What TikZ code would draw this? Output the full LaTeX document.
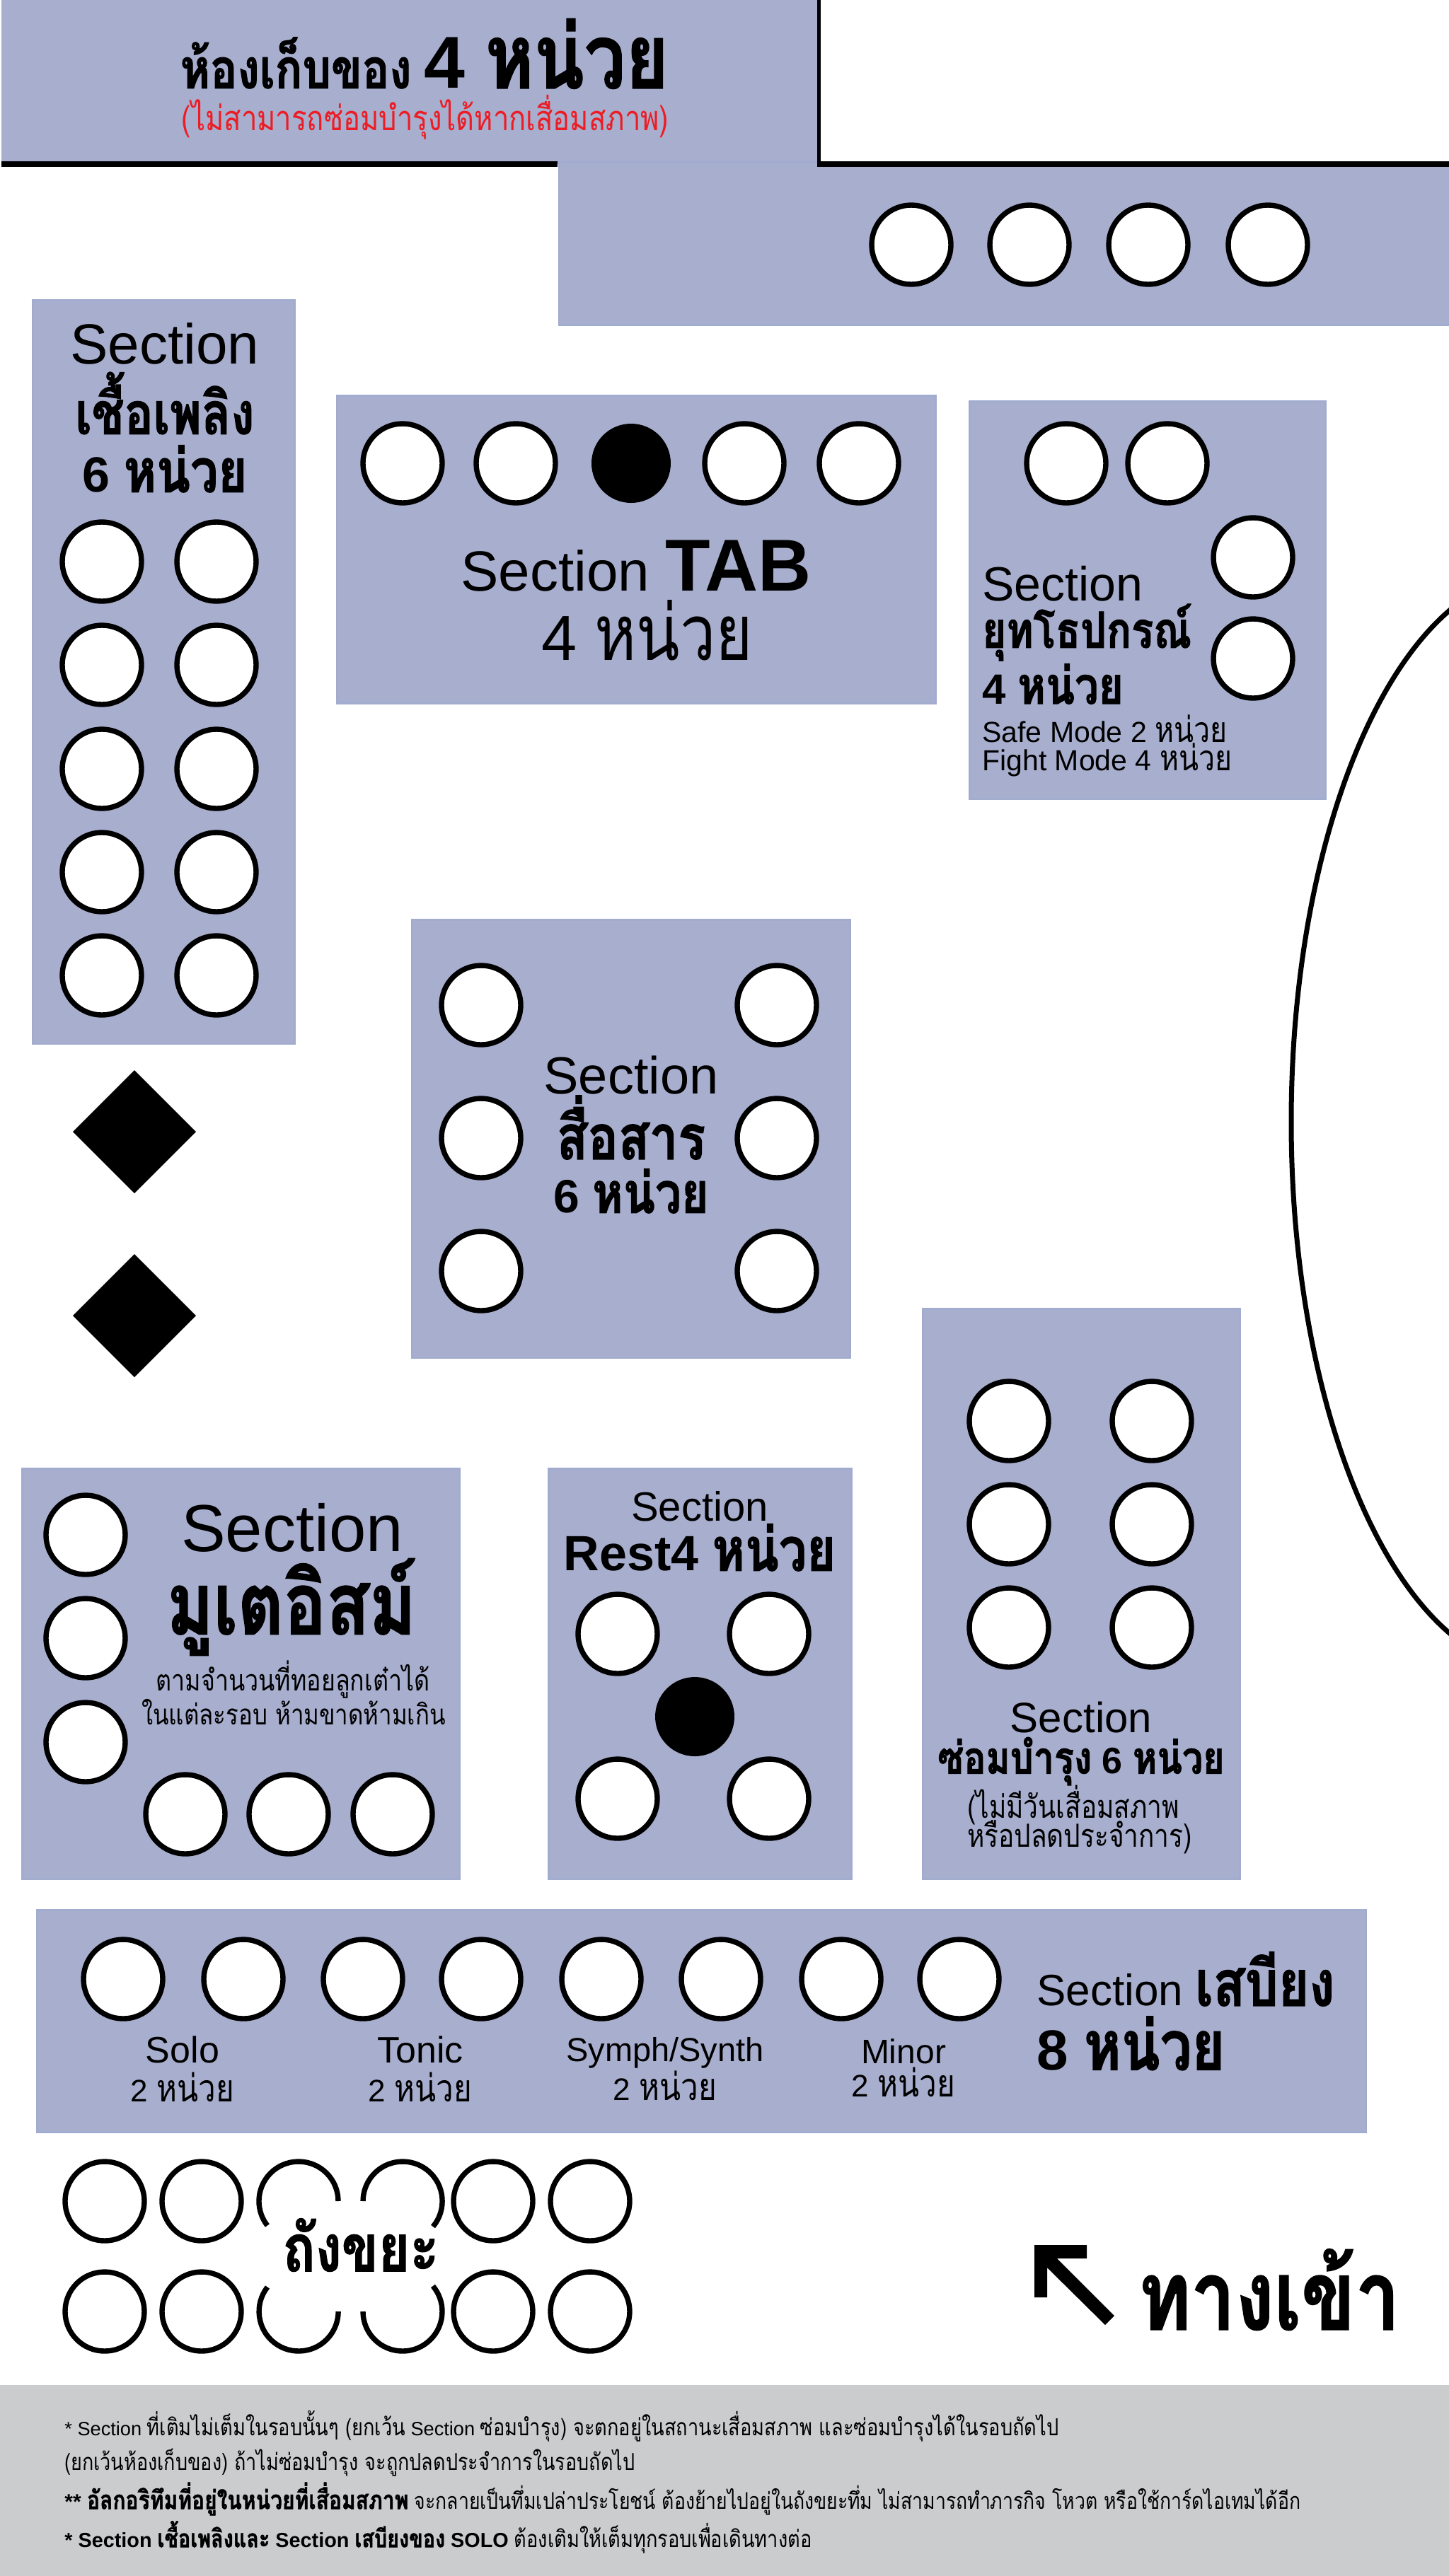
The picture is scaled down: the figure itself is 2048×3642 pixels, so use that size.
\documentclass[tikz,border=0pt]{standalone}
\usepackage{fontspec}
\setmainfont{Liberation Sans}
\newfontfamily\thf[Script=Thai,Scale=1.22,FakeStretch=0.82,BoldFeatures={FakeBold=1.3}]{Loma}
\newcommand{\TT}[1]{{\thf #1}}
\newcommand{\fs}[1]{\fontsize{#1}{#1}\selectfont}
\definecolor{boxfill}{HTML}{A8AECE}
\definecolor{boxedge}{HTML}{A2ACCF}
\definecolor{band}{HTML}{CBCCCE}
\definecolor{warn}{HTML}{ED1C24}
\tikzset{
  lab/.style={inner sep=0pt,align=center,text=black},
  seat/.style={draw=black,fill=white,line width=3.7pt},
  fullseat/.style={fill=black},
  room/.style={fill=boxfill,draw=boxedge,line width=1.5pt},
  wall/.style={draw=black,line width=4pt},
  binarc/.style={draw=black,line width=3.7pt},
  note/.style={inner sep=0pt,anchor=west,text=black},
}
\newcommand{\room}[4]{\path[room] (#1+2,#2+2) rectangle (#3-2,#4-2);}
\newcommand{\seats}[1]{\foreach \p/\q in {#1} \path[seat] (\p,\q) circle[radius=28pt];}
\newcommand{\fullseats}[1]{\foreach \p/\q in {#1} \path[fullseat] (\p,\q) circle[radius=28pt];}
\begin{document}
\begin{tikzpicture}[x=0.5pt,y=-0.5pt]
\useasboundingbox (0,0) rectangle (2048,3642);
% storage room and walls
\fill[boxfill] (2,0) rectangle (1157,232);
\draw[wall] (2,232) -- (788,232);
\draw[wall,line width=2.5pt] (1157,0) -- (1157,232);
\room{788}{227}{2051}{461}
\draw[wall] (1155,232) -- (2048,232);
\seats{1288/346,1455/346,1623/346,1792/346}
\node[lab] (store) at (600,76) {\fs{32}\TT{\bfseries ห้องเก็บของ} \fs{52}\bfseries 4 \TT{หน่วย}};
\node[lab,font=\fs{20},text=warn] (storenote) at (601,166) {\TT{(ไม่สามารถซ่อมบำรุงได้หากเสื่อมสภาพ)}};
% right ellipse
\draw[line width=3.5pt] (2175,1586) ellipse[x radius=175pt,y radius=387.5pt];
% fuel
\room{44}{422}{418}{1477}
\seats{144/794,306/794,144/940,306/940,144/1087,306/1087,144/1233,306/1233,144/1379,306/1379}
\node[lab,font=\fs{40}] (fuel1) at (233,486) {Section};
\node[lab,font=\fs{34}] (fuel2) at (233,570) {\TT{\bfseries เชื้อเพลิง}};
\node[lab,font=\fs{35}\bfseries] (fuel3) at (233,663) {6 \TT{\bfseries หน่วย}};
% diamonds
\fill (190,1513) -- (277,1600) -- (190,1687) -- (103,1600) -- cycle;
\fill (190,1773) -- (277,1860) -- (190,1947) -- (103,1860) -- cycle;
% TAB
\room{474}{557}{1324}{996}
\seats{569/655,729/655,1052/655,1214/655}
\fullseats{892/655}
\node[lab] (tab1) at (899,800) {\fs{40}Section \fs{52}\bfseries TAB};
\node[lab,font=\fs{45}] (tab2) at (915,891) {4 \TT{หน่วย}};
% equipment
\room{1368}{565}{1875}{1131}
\seats{1507/655,1650/655,1771/788,1771/931}
\node[lab,anchor=west,font=\fs{34}] (eq1) at (1388,825) {Section};
\node[lab,anchor=west,font=\fs{29}] (eq2) at (1388,894) {\TT{\bfseries ยุทโธปกรณ์}};
\node[lab,anchor=west,font=\fs{30}\bfseries] (eq3) at (1388,967) {4 \TT{\bfseries หน่วย}};
\node[lab,anchor=west,font=\fs{20.5}] (eq4) at (1388,1030) {Safe Mode 2 \TT{หน่วย}};
\node[lab,anchor=west,font=\fs{20.5}] (eq5) at (1388,1074) {Fight Mode 4 \TT{หน่วย}};
% comm
\room{580}{1298}{1203}{1921}
\seats{680/1421,1098/1421,680/1609,1098/1609,680/1797,1098/1797}
\node[lab,font=\fs{37}] (com1) at (892,1520) {Section};
\node[lab,font=\fs{36}] (com2) at (892,1594) {\TT{\bfseries สื่อสาร}};
\node[lab,font=\fs{33}\bfseries] (com3) at (892,1684) {6 \TT{\bfseries หน่วย}};
% mute
\room{29}{2074}{651}{2658}
\seats{121/2170,121/2316,121/2463,262/2565,408/2565,555/2565}
\node[lab,font=\fs{47}] (mu1) at (413,2160) {Section};
\node[lab,font=\fs{50}] (mu2) at (412,2272) {\TT{\bfseries มูเตอิสม์}};
\node[lab,font=\fs{17}] (mu3) at (414,2375) {\TT{ตามจำนวนที่ทอยลูกเต๋าได้}};
\node[lab,font=\fs{16.5}] (mu4) at (415,2421) {\TT{ในแต่ละรอบ ห้ามขาดห้ามเกิน}};
% rest
\room{773}{2074}{1205}{2658}
\seats{873/2310,1087/2310,873/2543,1087/2543}
\fullseats{982/2427}
\node[lab,font=\fs{29}] (re1) at (989,2130) {Section};
\node[lab,font=\fs{35}\bfseries] (re2) at (989,2188) {Rest4 \TT{\bfseries หน่วย}};
% repair
\room{1302}{1848}{1754}{2658}
\seats{1426/2009,1628/2009,1426/2155,1628/2155,1426/2301,1628/2301}
\node[lab,font=\fs{30}] (rp1) at (1528,2428) {Section};
\node[lab,font=\fs{26}\bfseries] (rp2) at (1528,2490) {\TT{\bfseries ซ่อมบำรุง} 6 \TT{\bfseries หน่วย}};
\node[lab,font=\fs{18.5}] (rp3) at (1517,2552) {\TT{(ไม่มีวันเสื่อมสภาพ}};
\node[lab,font=\fs{18.5}] (rp4) at (1526,2597) {\TT{หรือปลดประจำการ)}};
% sound
\room{50}{2698}{1932}{3016}
\seats{174/2798,344/2798,513/2798,680/2798,850/2798,1019/2798,1189/2798,1356/2798}
\node[lab,font=\fs{26}] (s1) at (258,2898) {Solo};
\node[lab,font=\fs{22}] (s2) at (258,2951) {2 \TT{หน่วย}};
\node[lab,font=\fs{26}] (s3) at (594,2898) {Tonic};
\node[lab,font=\fs{22}] (s4) at (594,2951) {2 \TT{หน่วย}};
\node[lab,font=\fs{23.5}] (s5) at (940,2902) {Symph/Synth};
\node[lab,font=\fs{22}] (s6) at (940,2949) {2 \TT{หน่วย}};
\node[lab,font=\fs{24}] (s7) at (1277,2900) {Minor};
\node[lab,font=\fs{22}] (s8) at (1277,2944) {2 \TT{หน่วย}};
\node[lab,anchor=west] (s9) at (1465,2798) {\fs{31}Section \fs{37}\TT{\bfseries เสบียง}};
\node[lab,anchor=west,font=\fs{40}\bfseries] (s10) at (1465,2889) {8 \TT{\bfseries หน่วย}};
% bin
\seats{148/3112,285/3112,697/3112,834/3112,148/3268,285/3268,697/3268,834/3268}
\draw[binarc] (478,3112) arc[start angle=0,end angle=218,radius=28pt];
\draw[binarc] (612,3148) arc[start angle=-40,end angle=180,radius=28pt];
\draw[binarc] (378,3233.5) arc[start angle=142,end angle=360,radius=28pt];
\draw[binarc] (513,3268) arc[start angle=180,end angle=400,radius=28pt];
\node[lab,font=\fs{38}] (bin) at (510,3174) {\TT{\bfseries ถังขยะ}};
% entrance
\fill (1462,3174) -- (1536,3174) -- (1536,3193) -- (1494,3193) -- (1575,3274) -- (1562,3287) -- (1480,3206) -- (1480,3248) -- (1462,3248) -- cycle;
\node[lab,font=\fs{56}] (door) at (1794,3237) {\TT{\bfseries ทางเข้า}};
% notes
\fill[band] (0,3372) rectangle (2048,3642);
\node[note,font=\fs{13.6}] (n1) at (91,3430) {* Section \TT{ที่เติมไม่เต็มในรอบนั้นๆ (ยกเว้น} Section \TT{ซ่อมบำรุง) จะตกอยู่ในสถานะเสื่อมสภาพ และซ่อมบำรุงได้ในรอบถัดไป}};
\node[note,font=\fs{13.5}] (n2) at (91,3482) {\TT{(ยกเว้นห้องเก็บของ) ถ้าไม่ซ่อมบำรุง จะถูกปลดประจำการในรอบถัดไป}};
\node[note] (n3) at (91,3533) {\fs{15}\textbf{** \TT{\bfseries อัลกอริทึมที่อยู่ในหน่วยที่เสื่อมสภาพ}} \fs{13.3}\TT{จะกลายเป็นทึ่มเปล่าประโยชน์ ต้องย้ายไปอยู่ในถังขยะทึ่ม ไม่สามารถทำภารกิจ โหวต หรือใช้การ์ดไอเทมได้อีก}};
\node[note] (n4) at (91,3587) {\fs{14.4}\textbf{* Section \TT{\bfseries เชื้อเพลิงและ} Section \TT{\bfseries เสบียงของ} SOLO} \fs{13.6}\TT{ต้องเติมให้เต็มทุกรอบเพื่อเดินทางต่อ}};
\end{tikzpicture}
\end{document}
